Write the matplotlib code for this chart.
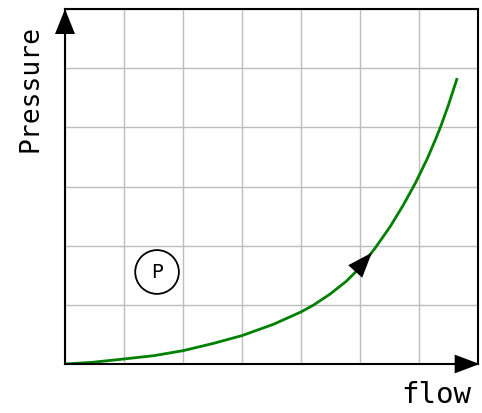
import numpy as np
import matplotlib.pyplot as plt
from matplotlib.patches import Circle

# curve (grid units)
flow = [0, 0.48, 1, 1.5, 2, 2.51, 3, 3.53, 4, 4.21, 4.49, 4.77, 5.0, 5.25,
        5.51, 5.73, 5.94, 6.14, 6.29, 6.37, 6.5, 6.64]
pressure = [0, 0.03, 0.085, 0.14, 0.225, 0.347, 0.48, 0.67, 0.88, 0.995, 1.18,
            1.40, 1.63, 1.95, 2.32, 2.68, 3.06, 3.47, 3.82, 4.02, 4.38, 4.81]

n_cols = 7
n_rows = 6
label_x = 'flow'
label_y = 'Pressure'
marker_text = 'P'

fig = plt.figure(figsize=(4.82, 4.14), dpi=100)
ax = fig.add_axes([65/482, 49/414, 413/482, 355/414])

ax.set_xlim(0, n_cols)
ax.set_ylim(0, n_rows)
ax.set_xticks(np.arange(n_cols + 1))
ax.set_yticks(np.arange(n_rows + 1))
ax.tick_params(length=0, labelbottom=False, labelleft=False)
ax.grid(True, color='#bdbdbd', lw=1.0)
ax.set_axisbelow(True)
for s in ax.spines.values():
    s.set_linewidth(1.5)
    s.set_color('black')

ax.plot(flow, pressure, color='green', lw=2, solid_joinstyle='round')

# direction arrow on the curve
ax.annotate('', xy=(5.2, 1.88), xytext=(4.915, 1.56),
            arrowprops=dict(arrowstyle='-|>,head_length=0.4,head_width=0.15',
                            mutation_scale=45, color='black', lw=0,
                            shrinkA=0, shrinkB=0))

# axis arrows
ax.annotate('', xy=(0, 1), xytext=(0, 0.93), xycoords='axes fraction',
            arrowprops=dict(arrowstyle='-|>,head_length=0.4,head_width=0.16',
                            mutation_scale=45, color='black', lw=0,
                            shrinkA=0, shrinkB=0), annotation_clip=False)
ax.annotate('', xy=(1.004, 0), xytext=(0.94, 0), xycoords='axes fraction',
            arrowprops=dict(arrowstyle='-|>,head_length=0.4,head_width=0.15',
                            mutation_scale=45, color='black', lw=0,
                            shrinkA=0, shrinkB=0), annotation_clip=False)

# circled P
ax.add_patch(Circle((1.56, 1.555), 0.37, fill=False, ec='black', lw=1.3))
ax.text(1.56, 1.555, marker_text, ha='center', va='center', fontsize=14,
        family='DejaVu Sans')

fig.text(436/482, 1 - 395/414, label_x, ha='center', va='center',
         fontsize=21, family='DejaVu Sans Mono')
fig.text(30/482, 1 - 88/414, label_y, ha='center', va='center', rotation=90,
         fontsize=19, family='DejaVu Sans Mono')

fig.savefig('out.png', dpi=100)
